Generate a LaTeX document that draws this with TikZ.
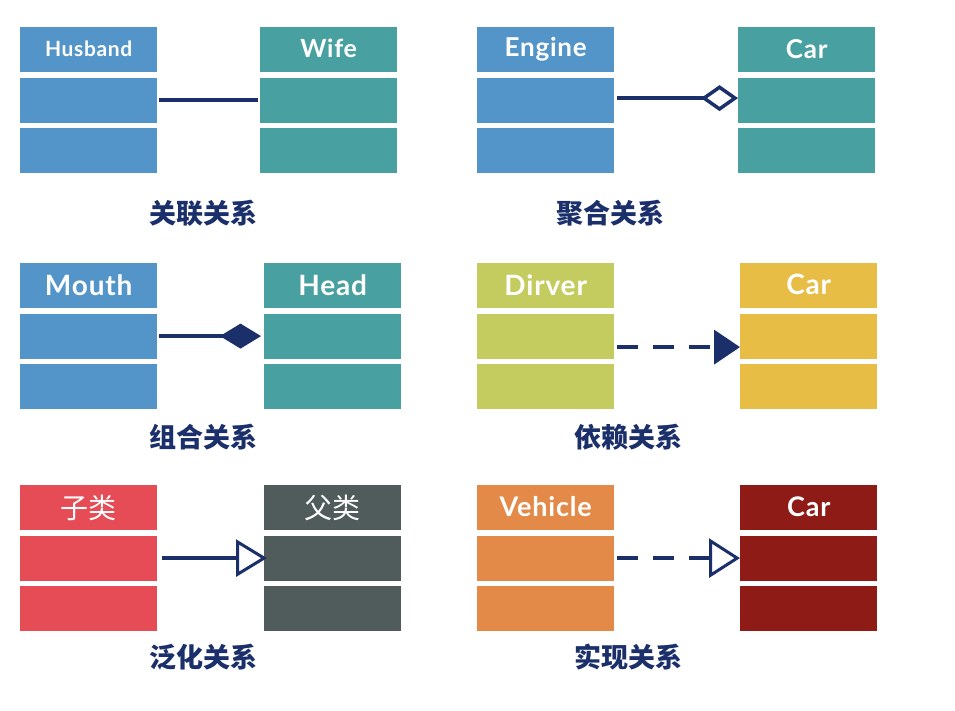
\documentclass[tikz,border=0pt]{standalone}
\usepackage{fontspec}
\setmainfont{Lato}[LetterSpace=3]
\newfontfamily\cjk{Noto Sans CJK SC}
\usetikzlibrary{arrows.meta,positioning}

\definecolor{navy}{HTML}{1B2F6B}
\definecolor{clblue}{HTML}{5395C9}
\definecolor{clteal}{HTML}{48A0A1}
\definecolor{clolive}{HTML}{C4CC5F}
\definecolor{clyellow}{HTML}{E7BD46}
\definecolor{clred}{HTML}{E54C55}
\definecolor{clgrey}{HTML}{505B5B}
\definecolor{clorange}{HTML}{E38A48}
\definecolor{cldark}{HTML}{8E1B16}

\tikzset{
  classhead/.style={anchor=north west,minimum width=137pt,minimum height=45pt,inner sep=0pt,text=white},
  classpart/.style={minimum width=137pt,minimum height=45pt,inner sep=0pt},
  relation/.style={draw=navy,line width=4pt},
  rellabel/.style={text=navy,font=\cjk\bfseries\fontsize{27}{27}\selectfont},
}

% name, x, y, colour, font size, title
\newcommand\umlclass[6]{%
  \node[classhead,fill=#4,font=\bfseries\fontsize{#5}{#5}\selectfont] (#1) at (#2,#3) {\raisebox{2pt}{#6}};
  \node[classpart,fill=#4,below=5pt of #1] (#1-a) {};
  \node[classpart,fill=#4,below=5pt of #1-a] (#1-b) {};
}

\begin{document}
\begin{tikzpicture}[x=1pt,y=-1pt]
\useasboundingbox[fill=white] (0,0) rectangle (955,710);

% association
\umlclass{husband}{20}{27}{clblue}{21}{Husband}
\umlclass{wife}{260}{27}{clteal}{25}{Wife}
\draw[relation,shorten <=2pt,shorten >=2pt] (husband-a.east) -- (wife-a.west);
\node[rellabel] (assoc) at (203,213) {关联关系};

% aggregation
\umlclass{engine}{477}{27}{clblue}{26}{Engine}
\umlclass{car1}{738}{27}{clteal}{26}{Car}
\draw[relation,shorten <=3pt,-{Diamond[open,length=37pt,width=26pt,line width=3.5pt]}]
  ([yshift=2pt]engine-a.east) -- ([yshift=2pt]car1-a.west);
\node[rellabel] (aggr) at (610,213) {聚合关系};

% composition
\umlclass{mouth}{20}{263}{clblue}{28}{Mouth}
\umlclass{head}{264}{263}{clteal}{28}{Head}
\draw[relation,shorten <=2pt,shorten >=3pt,-{Diamond[length=41pt,width=25pt]}]
  (mouth-a.east) -- (head-a.west);
\node[rellabel] (comp) at (203,437) {组合关系};

% dependency
\umlclass{driver}{477}{263}{clolive}{28}{Dirver}
\umlclass{car2}{740}{263}{clyellow}{28}{Car}
\draw[relation,dash pattern=on 21pt off 15pt,shorten <=3pt,-{Triangle[length=26pt,width=34pt]}]
  ([yshift=-11pt]driver-a.east) -- ([yshift=-11pt]car2-a.west);
\node[rellabel] (dep) at (628,437) {依赖关系};

% generalization
\umlclass{child}{20}{485}{clred}{28}{\cjk\mdseries 子类}
\umlclass{parent}{264}{485}{clgrey}{28}{\cjk\mdseries 父类}
\draw[relation,shorten <=5pt,shorten >=-3pt,-{Triangle[open,length=31pt,width=37pt,line width=3pt]}]
  (child-a.east) -- (parent-a.west);
\node[rellabel] (gen) at (203,657) {泛化关系};

% realization
\umlclass{vehicle}{477}{485}{clorange}{27}{Vehicle}
\umlclass{car3}{740}{485}{cldark}{27}{Car}
\draw[relation,dash pattern=on 21pt off 15pt,shorten <=3pt,-{Triangle[open,length=31pt,width=39pt,line width=3pt]}]
  (vehicle-a.east) -- (car3-a.west);
\node[rellabel] (real) at (628,657) {实现关系};
\end{tikzpicture}
\end{document}
